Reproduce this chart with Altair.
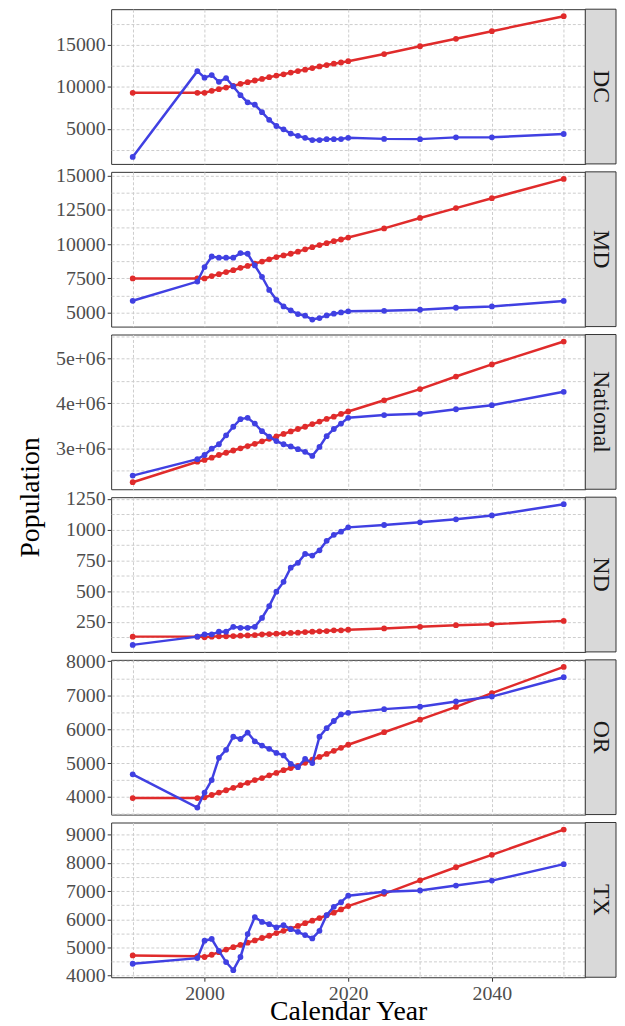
import altair as alt
import pandas as pd

YEARS = [1990, 1999, 2000, 2001, 2002, 2003, 2004, 2005, 2006, 2007, 2008, 2009, 2010,
         2011, 2012, 2013, 2014, 2015, 2016, 2017, 2018, 2019, 2020,
         2025, 2030, 2035, 2040, 2050]

REGIONS = ["DC", "MD", "National", "ND", "OR", "TX"]
SERIES = ["Series 1", "Series 2"]
COLORS = ["#e02b2b", "#4040e2"]

DC_RED = [9290, 9290, 9300, 9530, 9730, 9920, 10120, 10360, 10560, 10760, 10950, 11150, 11340,
          11500, 11700, 11880, 12050, 12240, 12430, 12600, 12760, 12900, 13050,
          13900, 14830, 15720, 16620, 18400]
DC_BLUE = [1680, 11870, 11100, 11400, 10600, 11050, 10050, 9020, 8160, 7890, 6990, 6090, 5350,
           4960, 4450, 4180, 3950, 3680, 3680, 3790, 3790, 3800, 3950,
           3820, 3790, 4000, 4010, 4400]
MD_RED = [7500, 7500, 7500, 7670, 7810, 7960, 8100, 8270, 8410, 8580, 8730, 8890, 9060,
          9180, 9300, 9450, 9620, 9780, 9930, 10070, 10220, 10340, 10480,
          11150, 11910, 12630, 13350, 14760]
MD_BLUE = [5870, 7270, 8330, 9100, 9010, 9010, 9010, 9340, 9300, 8450, 7620, 6660, 5940,
           5460, 5170, 4900, 4780, 4500, 4610, 4800, 4930, 5020, 5100,
           5140, 5215, 5360, 5455, 5860]
NAT_RED = [2243000, 2700000, 2740000, 2790000, 2850000, 2900000, 2950000, 3000000, 3050000,
           3100000, 3155000, 3210000, 3265000, 3320000, 3375000, 3430000, 3480000, 3540000,
           3595000, 3655000, 3705000, 3765000, 3820000,
           4070000, 4320000, 4600000, 4870000, 5380000]
NAT_BLUE = [2390000, 2757000, 2850000, 2990000, 3090000, 3290000, 3480000, 3650000, 3680000,
            3550000, 3380000, 3260000, 3160000, 3090000, 3040000, 2980000, 2920000, 2830000,
            3030000, 3270000, 3430000, 3550000, 3680000,
            3740000, 3770000, 3870000, 3960000, 4260000]
ND_RED = [130, 130, 125, 130, 133, 133, 135, 138, 140, 143, 149, 151, 154,
          157, 160, 162, 167, 170, 173, 175, 181, 181, 186,
          197, 210, 223, 231, 258]
ND_BLUE = [63, 130, 149, 149, 170, 170, 210, 202, 202, 210, 282, 378, 495,
           575, 690, 730, 802, 789, 831, 909, 957, 983, 1018,
           1037, 1059, 1083, 1115, 1206]
OR_RED = [3970, 3970, 3990, 4060, 4130, 4200, 4270, 4350, 4420, 4500, 4560, 4640, 4710,
          4790, 4855, 4920, 5010, 5100, 5180, 5270, 5360, 5450, 5540,
          5910, 6280, 6655, 7060, 7835]
OR_BLUE = [4670, 3690, 4130, 4500, 5155, 5390, 5776, 5710, 5900, 5640, 5515, 5420, 5300,
           5225, 4980, 4880, 5125, 5000, 5776, 6030, 6240, 6435, 6480,
           6590, 6660, 6815, 6960, 7530]
TX_RED = [4715, 4690, 4660, 4740, 4830, 4925, 5010, 5090, 5170, 5250, 5335, 5415, 5510,
          5590, 5670, 5765, 5860, 5950, 6045, 6140, 6235, 6350, 6470,
          6906, 7385, 7850, 8290, 9190]
TX_BLUE = [4420, 4620, 5240, 5300, 4880, 4480, 4190, 4660, 5475, 6080, 5905, 5825, 5710,
           5790, 5650, 5555, 5440, 5320, 5590, 6150, 6445, 6610, 6840,
           6977, 7023, 7200, 7375, 7960]

RED = {"DC": DC_RED, "MD": MD_RED, "National": NAT_RED, "ND": ND_RED, "OR": OR_RED, "TX": TX_RED}
BLUE = {"DC": DC_BLUE, "MD": MD_BLUE, "National": NAT_BLUE, "ND": ND_BLUE, "OR": OR_BLUE, "TX": TX_BLUE}

# tick labels (major) and minor grid positions per panel
Y_MAJOR = {
    "DC": [5000, 10000, 15000],
    "MD": [5000, 7500, 10000, 12500, 15000],
    "National": [3000000, 4000000, 5000000],
    "ND": [250, 500, 750, 1000, 1250],
    "OR": [4000, 5000, 6000, 7000, 8000],
    "TX": [4000, 5000, 6000, 7000, 8000, 9000],
}
Y_MINOR = {
    "DC": [2500, 7500, 12500, 17500],
    "MD": [6250, 8750, 11250, 13750],
    "National": [2500000, 3500000, 4500000, 5500000],
    "ND": [125, 375, 625, 875, 1125],
    "OR": [3500, 4500, 5500, 6500, 7500],
    "TX": [4500, 5500, 6500, 7500, 8500],
}
X_GRID = [1990, 2000, 2010, 2020, 2030, 2040, 2050]
X_LABELS = [2000, 2020, 2040]

FONT = "Liberation Serif"
W, H = 478, 156
GRID_COLOR = "#cccccc"

rows = []
for i, r in enumerate(REGIONS):
    n = len(YEARS)
    df = pd.DataFrame({
        "year": YEARS + YEARS,
        "value": RED[r] + BLUE[r],
        "series": [SERIES[0]] * n + [SERIES[1]] * n,
    })
    lo, hi = df["value"].min(), df["value"].max()
    ex = 0.05 * (hi - lo)
    dom = [lo - ex, hi + ex]
    majors = Y_MAJOR[r]
    maj_list = ",".join(str(v) for v in majors)
    is_major = f"indexof([{maj_list}], datum.value) >= 0"
    if r == "National":
        lab = f"{is_major} ? (datum.value / 1000000) + 'e+06' : ''"
    else:
        lab = f"{is_major} ? format(datum.value, 'd') : ''"
    yaxis = alt.Axis(
        values=sorted(majors + Y_MINOR[r]),
        labelExpr=lab,
        tickColor={"condition": {"test": is_major, "value": "#333333"}, "value": "transparent"},
        tickSize=4, labelPadding=2, labelFontSize=20, labelFont=FONT, labelColor="#4d4d4d",
        labelOverlap=False, labelFlush=False, grid=True, gridColor=GRID_COLOR, gridDash=[3, 2],
        domain=False, title=None,
    )
    last = i == len(REGIONS) - 1
    x_list = ",".join(str(v) for v in X_LABELS)
    x_major = f"indexof([{x_list}], datum.value) >= 0"
    if last:
        xaxis = alt.Axis(
            values=X_GRID, labelExpr=f"{x_major} ? format(datum.value, 'd') : ''",
            tickColor={"condition": {"test": x_major, "value": "#333333"}, "value": "transparent"},
            tickSize=4, labelPadding=2, labelFontSize=20, labelFont=FONT, labelColor="#4d4d4d",
            labelOverlap=False, labelFlush=False, grid=True, gridColor=GRID_COLOR, gridDash=[3, 2],
            domain=False, title="Calendar Year", titleFont=FONT, titleFontSize=28,
            titleFontWeight="normal", titleColor="black", titlePadding=-5,
        )
    else:
        xaxis = alt.Axis(values=X_GRID, labels=False, ticks=False, grid=True, gridColor=GRID_COLOR,
                         gridDash=[3, 2], domain=False, title=None)
    base = alt.Chart(df).encode(
        x=alt.X("year:Q", scale=alt.Scale(domain=[1987, 2053], nice=False, zero=False), axis=xaxis),
        y=alt.Y("value:Q", scale=alt.Scale(domain=dom, nice=False, zero=False), axis=yaxis),
        color=alt.Color("series:N", scale=alt.Scale(domain=SERIES, range=COLORS), legend=None),
    )
    layers = []
    for s in SERIES:
        b = base.transform_filter(alt.datum.series == s)
        layers.append(b.mark_line(strokeWidth=2.5))
        layers.append(b.mark_circle(size=34, opacity=1))
    strip = alt.Data(values=[{"region": r}])
    rect = alt.Chart(strip).mark_rect(fill="#d9d9d9", stroke="#333333", strokeWidth=1).encode(
        x=alt.value(W), x2=alt.value(W + 31), y=alt.value(0), y2=alt.value(H))
    txt = alt.Chart(strip).mark_text(angle=90, font=FONT, fontSize=24, color="#1a1a1a").encode(
        x=alt.value(W + 15.5), y=alt.value(H / 2), text="region:N")
    layers += [rect, txt]
    rows.append(alt.layer(*layers).properties(width=W, height=H))

chart = alt.vconcat(*rows, spacing=8, bounds="flush").properties(
    title=alt.TitleParams("Population", orient="left", anchor="middle", fontSize=28, font=FONT,
                          fontWeight="normal", color="black", offset=10, dx=20),
    padding={"left": 9, "top": -4, "right": 0, "bottom": 0},
).configure_view(stroke="#333333", strokeWidth=1)

chart.save("out.html", embed_options={"renderer": "svg", "actions": False})
